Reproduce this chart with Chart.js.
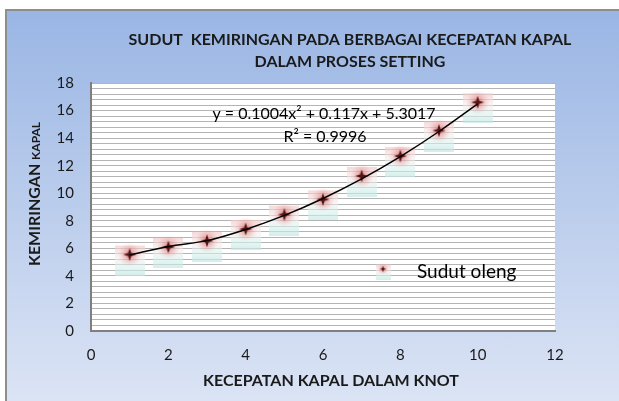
<!DOCTYPE html>
<html>
<head>
<meta charset="utf-8">
<script src="https://cdn.jsdelivr.net/npm/chart.js@4.4.0/dist/chart.umd.min.js"></script>
<style>
  html, body { margin: 0; padding: 0; background: #fff; }
  body { width: 619px; height: 401px; overflow: hidden; position: relative; }
  #frame {
    position: absolute; left: 5px; top: 9px; width: 620px; height: 400px;
    border-left: 2px solid #8e8e8e; border-top: 2px solid #8e8e8e;
    background: linear-gradient(#9ab6e4, #dde5f5);
  }
  #chart { position: absolute; left: 0; top: 0; }
</style>
</head>
<body>
<div id="frame"></div>
<canvas id="chart" width="619" height="401"></canvas>
<script>
// data
const speeds = [1, 2, 3, 4, 5, 6, 7, 8, 9, 10];
const heelAngles = [5.55, 6.1, 6.55, 7.4, 8.45, 9.55, 11.25, 12.7, 14.55, 16.6];
const trendValues = [5.52, 6.14, 6.56, 7.37, 8.39, 9.62, 11.04, 12.66, 14.48, 16.48];
const xTicks = [0, 2, 4, 6, 8, 10, 12];
const yTicks = [0, 2, 4, 6, 8, 10, 12, 14, 16, 18];
const yMinorStep = 0.4;

const titleLines = ["SUDUT  KEMIRINGAN PADA BERBAGAI KECEPATAN KAPAL", "DALAM PROSES SETTING"];
const xTitle = "KECEPATAN KAPAL DALAM KNOT";
const yTitle = ["KEMIRINGAN ", "KAPAL"];
const equationLines = ["y = 0.1004x\u00b2 + 0.117x + 5.3017", "R\u00b2 = 0.9996"];
const seriesName = "Sudut oleng";

const FONT = "Lato, 'Liberation Sans', sans-serif";

// blurry picture marker like the excel one
function makeMarker() {
  const c = document.createElement("canvas");
  c.width = 30;
  c.height = 42;
  const g = c.getContext("2d");
  const box = g.createLinearGradient(0, 12, 0, 42);
  box.addColorStop(0, "rgba(244,200,200,0.7)");
  box.addColorStop(0.4, "rgba(246,236,236,0.55)");
  box.addColorStop(0.7, "rgba(215,240,236,0.6)");
  box.addColorStop(1, "rgba(195,232,228,0.7)");
  g.fillStyle = box;
  g.fillRect(0, 12, 30, 30);
  const glow = g.createRadialGradient(15, 21, 0, 15, 21, 12);
  glow.addColorStop(0, "rgba(160,40,40,0.6)");
  glow.addColorStop(0.5, "rgba(215,100,100,0.3)");
  glow.addColorStop(1, "rgba(235,150,150,0)");
  g.fillStyle = glow;
  g.fillRect(0, 8, 30, 28);
  g.fillStyle = "#5a1212";
  g.beginPath();
  g.moveTo(15, 14.5);
  g.lineTo(16.6, 19.4);
  g.lineTo(21.5, 21);
  g.lineTo(16.6, 22.6);
  g.lineTo(15, 27.5);
  g.lineTo(13.4, 22.6);
  g.lineTo(8.5, 21);
  g.lineTo(13.4, 19.4);
  g.closePath();
  g.fill();
  return c;
}
const marker = makeMarker();

const decorations = {
  id: "decorations",
  beforeDraw(chart) {
    const { ctx, chartArea: a } = chart;
    ctx.save();
    ctx.fillStyle = "#ffffff";
    ctx.fillRect(a.left, a.top, a.right - a.left, a.bottom - a.top);
    ctx.restore();
  },
  afterDraw(chart) {
    const ctx = chart.ctx;
    ctx.save();
    ctx.fillStyle = "#1a1a1a";
    ctx.textAlign = "center";
    ctx.textBaseline = "middle";

    ctx.font = "bold 16px " + FONT;
    ctx.fillText(titleLines[0], 350, 40);
    ctx.fillText(titleLines[1], 350, 62);

    ctx.font = "bold 16px " + FONT;
    ctx.fillText(xTitle, 331, 381);

    // y title, second word smaller
    ctx.save();
    ctx.translate(40, 194);
    ctx.rotate(-Math.PI / 2);
    ctx.textBaseline = "alphabetic";
    ctx.textAlign = "left";
    ctx.font = "bold 16px " + FONT;
    const w1 = ctx.measureText(yTitle[0]).width;
    ctx.font = "bold 12px " + FONT;
    const w2 = ctx.measureText(yTitle[1]).width;
    const start = -(w1 + w2) / 2;
    ctx.font = "bold 16px " + FONT;
    ctx.fillText(yTitle[0], start, 0);
    ctx.font = "bold 12px " + FONT;
    ctx.fillText(yTitle[1], start + w1, 0);
    ctx.restore();

    ctx.fillStyle = "#000";
    ctx.font = "16px " + FONT;
    ctx.fillText(equationLines[0], 324, 114);
    ctx.fillText(equationLines[1], 325, 137);

    // legend
    ctx.drawImage(marker, 383 - 7.5, 269 - 10.5, 15, 21);
    ctx.textAlign = "left";
    ctx.textBaseline = "alphabetic";
    ctx.font = "19px " + FONT;
    ctx.fillText(seriesName, 417, 278);
    ctx.restore();
  }
};

new Chart("chart", {
  type: "scatter",
  data: {
    datasets: [
      {
        label: "trend",
        data: speeds.map((x, i) => ({ x: x, y: trendValues[i] })),
        showLine: true,
        borderColor: "#000000",
        borderWidth: 1.5,
        pointRadius: 0,
        cubicInterpolationMode: "monotone",
        order: 0,
      },
      {
        label: seriesName,
        data: speeds.map((x, i) => ({ x: x, y: heelAngles[i] })),
        pointStyle: marker,
        pointRadius: 15,
        order: 1,
      },
    ],
  },
  options: {
    responsive: false,
    animation: false,
    layout: { padding: { left: 0, right: 64, top: 83, bottom: 0 } },
    plugins: {
      legend: { display: false },
      title: { display: false },
      tooltip: { enabled: false },
    },
    scales: {
      x: {
        min: 0,
        max: 12,
        afterFit(scale) { scale.height = 70; },
        afterBuildTicks(scale) { scale.ticks = xTicks.map((v) => ({ value: v })); },
        grid: { display: false, drawTicks: false },
        border: { display: true, color: "#7f7f7f", width: 2 },
        ticks: { padding: 15, color: "#1a1a1a", font: { family: FONT, size: 15 } },
      },
      y: {
        min: 0,
        max: 18,
        afterFit(scale) { scale.width = 91; },
        afterBuildTicks(scale) {
          const n = Math.round((scale.max - scale.min) / yMinorStep);
          const list = [];
          for (let i = 0; i <= n; i++) list.push({ value: +(scale.min + i * yMinorStep).toFixed(6) });
          scale.ticks = list;
        },
        grid: { color: "#b4b4b4", lineWidth: 1, drawTicks: false },
        border: { display: true, color: "#7f7f7f", width: 2 },
        ticks: {
          autoSkip: false,
          padding: 17,
          color: "#1a1a1a",
          font: { family: FONT, size: 15 },
          callback(value) {
            return yTicks.some((t) => Math.abs(t - value) < 1e-6) ? Math.round(value) : "";
          },
        },
      },
    },
  },
  plugins: [decorations],
});
</script>
</body>
</html>
